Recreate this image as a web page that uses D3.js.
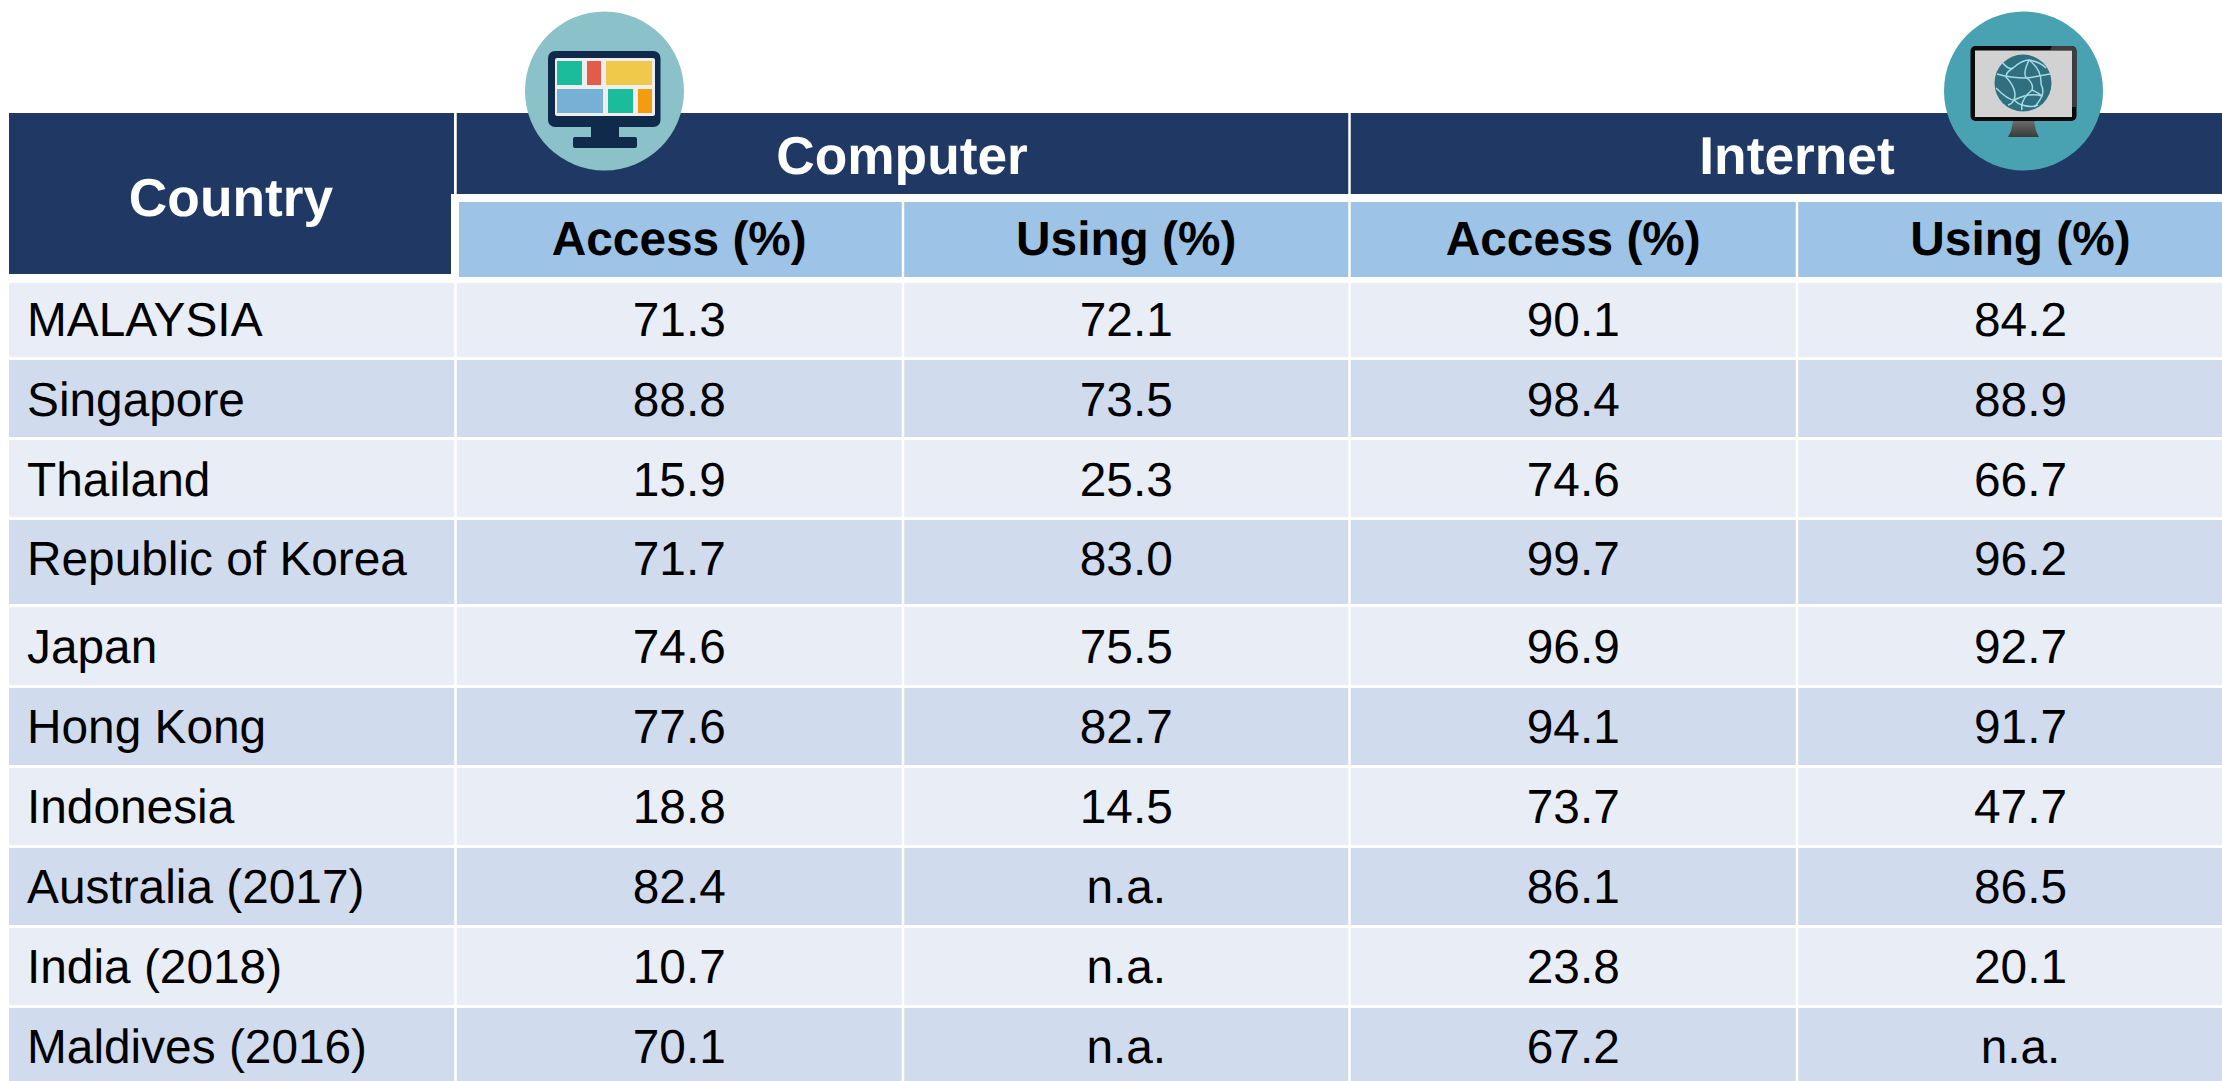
<!DOCTYPE html>
<html>
<head>
<meta charset="utf-8">
<script src="https://cdn.jsdelivr.net/npm/d3@7"></script>
<style>
  html, body { margin: 0; padding: 0; background: #fff; overflow: hidden; }
  svg { display: block; }
  text { font-family: "Liberation Sans", Arial, sans-serif; text-rendering: geometricPrecision; }
</style>
</head>
<body>
<svg id="chart" width="2222" height="1081"></svg>
<script>
const countries = ['MALAYSIA', 'Singapore', 'Thailand', 'Republic of Korea', 'Japan', 'Hong Kong', 'Indonesia', 'Australia (2017)', 'India (2018)', 'Maldives (2016)'];
const computerAccess = ['71.3', '88.8', '15.9', '71.7', '74.6', '77.6', '18.8', '82.4', '10.7', '70.1'];
const computerUsing = ['72.1', '73.5', '25.3', '83.0', '75.5', '82.7', '14.5', 'n.a.', 'n.a.', 'n.a.'];
const internetAccess = ['90.1', '98.4', '74.6', '99.7', '96.9', '94.1', '73.7', '86.1', '23.8', '67.2'];
const internetUsing = ['84.2', '88.9', '66.7', '96.2', '92.7', '91.7', '47.7', '86.5', '20.1', 'n.a.'];
const groups = ['Computer', 'Internet'];
const subHeaders = ['Access (%)', 'Using (%)', 'Access (%)', 'Using (%)'];

const colEdges = [9, 455.5, 903, 1349.5, 1797, 2244];
const rowTops = [283, 360, 440, 520, 607, 688, 768, 848, 928, 1008];
const rowBottoms = [357, 437, 517, 604, 685, 765, 845, 925, 1005, 1085];
const rowBaselines = [336, 416, 496, 575, 663, 743, 823, 903, 983, 1063];
const gap = 2.5;

const svg = d3.select('#chart');
const columns = [countries, computerAccess, computerUsing, internetAccess, internetUsing];
const x = d3.scaleOrdinal().domain(d3.range(6)).range(colEdges);
const colMid = i => (x(i) + x(i + 1)) / 2;
const rowColor = i => (i % 2 ? '#d0dbee' : '#e9edf6');

// body
const rows = svg.append('g').selectAll('g').data(countries).enter().append('g');
rows.selectAll('rect').data((d, r) => d3.range(5).map(c => ({ r, c }))).enter().append('rect')
  .attr('x', d => x(d.c) + (d.c ? gap / 2 : 0))
  .attr('y', d => rowTops[d.r])
  .attr('width', d => x(d.c + 1) - x(d.c) - (d.c ? gap : gap / 2))
  .attr('height', d => rowBottoms[d.r] - rowTops[d.r])
  .attr('fill', d => rowColor(d.r));

rows.append('text')
  .attr('x', 27)
  .attr('y', (d, r) => rowBaselines[r])
  .attr('font-size', 47.8)
  .text(d => d);

columns.slice(1).forEach((vals, k) => {
  svg.append('g').selectAll('text').data(vals).enter().append('text')
    .attr('x', colMid(k + 1))
    .attr('y', (d, r) => rowBaselines[r])
    .attr('text-anchor', 'middle')
    .attr('font-size', 47.8)
    .text(d => d);
});

// header
const head = svg.append('g');
head.append('rect').attr('x', 9).attr('y', 113).attr('width', 442).attr('height', 161).attr('fill', '#1f3864');
head.append('rect').attr('x', 451).attr('y', 113).attr('width', 3).attr('height', 81).attr('fill', '#1f3864');
head.selectAll('rect.group').data(groups).enter().append('rect')
  .attr('class', 'group')
  .attr('x', (d, i) => x(1 + i * 2) + gap / 2)
  .attr('y', 113)
  .attr('width', (d, i) => x(3 + i * 2) - x(1 + i * 2) - gap)
  .attr('height', 81)
  .attr('fill', '#1f3864');
head.selectAll('rect.sub').data(subHeaders).enter().append('rect')
  .attr('class', 'sub')
  .attr('x', (d, i) => (i ? x(i + 1) + gap / 2 : 459))
  .attr('y', 202)
  .attr('width', (d, i) => (i ? x(i + 2) - x(i + 1) - gap : x(2) - gap / 2 - 459))
  .attr('height', 75)
  .attr('fill', '#9dc3e6');

head.append('text')
  .attr('x', 231).attr('y', 216)
  .attr('text-anchor', 'middle').attr('font-size', 53.3).attr('font-weight', 'bold').attr('fill', '#fff')
  .text('Country');
head.selectAll('text.group').data(groups).enter().append('text')
  .attr('class', 'group')
  .attr('x', (d, i) => (i ? 1797 : 902))
  .attr('y', 174)
  .attr('text-anchor', 'middle').attr('font-size', 53.3).attr('font-weight', 'bold').attr('fill', '#fff')
  .text(d => d);
head.selectAll('text.sub').data(subHeaders).enter().append('text')
  .attr('class', 'sub')
  .attr('x', (d, i) => colMid(i + 1))
  .attr('y', 255)
  .attr('text-anchor', 'middle').attr('font-size', 47.8).attr('font-weight', 'bold')
  .text(d => d);

// computer icon
const icon1 = svg.append('g');
icon1.append('circle').attr('cx', 604.5).attr('cy', 91).attr('r', 79.5).attr('fill', '#8bc1c9');
icon1.append('rect').attr('x', 548).attr('y', 51).attr('width', 112.5).attr('height', 76).attr('rx', 7).attr('fill', '#0f2a4a');
icon1.append('rect').attr('x', 591).attr('y', 125).attr('width', 28).attr('height', 14).attr('fill', '#0f2a4a');
icon1.append('rect').attr('x', 573).attr('y', 137).attr('width', 64).attr('height', 11).attr('rx', 2).attr('fill', '#0f2a4a');
icon1.append('rect').attr('x', 555).attr('y', 58).attr('width', 100).attr('height', 58).attr('rx', 2).attr('fill', '#eeeeee');
const tiles = [
  { x: 557, y: 61, w: 25, h: 24, c: '#1abc9c' },
  { x: 587, y: 61, w: 14, h: 24, c: '#e35b4b' },
  { x: 606, y: 61, w: 46, h: 24, c: '#f0c84a' },
  { x: 557, y: 89, w: 46, h: 24, c: '#76b0d4' },
  { x: 608, y: 89, w: 25, h: 24, c: '#1abc9c' },
  { x: 638, y: 89, w: 14, h: 24, c: '#f39c12' }
];
icon1.selectAll('rect.tile').data(tiles).enter().append('rect')
  .attr('class', 'tile')
  .attr('x', d => d.x).attr('y', d => d.y).attr('width', d => d.w).attr('height', d => d.h).attr('fill', d => d.c);

// internet icon
const icon2 = svg.append('g');
icon2.append('circle').attr('cx', 2023.5).attr('cy', 91).attr('r', 79.5).attr('fill', '#48a2b2');
const standFill = svg.append('defs').append('linearGradient').attr('id', 'stand').attr('x1', 0).attr('x2', 0).attr('y1', 0).attr('y2', 1);
standFill.append('stop').attr('offset', 0).attr('stop-color', '#6a6a6a');
standFill.append('stop').attr('offset', 1).attr('stop-color', '#3a3a3a');
icon2.append('path').attr('d', 'M2013,121L2034,121L2036,131L2039,137L2008,137L2011,131Z').attr('fill', 'url(#stand)');
icon2.append('rect').attr('x', 1970.5).attr('y', 46).attr('width', 106).attr('height', 75).attr('rx', 5).attr('fill', '#0a0a0a');
icon2.append('path').attr('d', 'M2052,46L2071,46Q2076.5,46 2076.5,51L2076.5,107L2072,107L2072,50L2050,50Z').attr('fill', '#3d3d40');
icon2.append('rect').attr('x', 1975).attr('y', 50.5).attr('width', 97).attr('height', 66.5).attr('fill', '#d2d2d2');
icon2.append('circle').attr('cx', 2023).attr('cy', 83).attr('r', 28.5).attr('fill', '#2f6f7f');
const globeLines = [
  'M1997,74Q2010,78 2027,78Q2040,76 2050,74',
  'M1996,88Q2008,100 2014,100Q2030,92 2042,96',
  'M2002,62Q2008,70 2013,68Q2022,60 2029,60Q2040,62 2046,68',
  'M2029,60Q2022,75 2027,78Q2034,84 2032,90Q2020,100 2022,110',
  'M2013,68Q2006,72 2006,77Q2018,90 2014,100Q2012,104 2008,105',
  'M2032,90Q2040,94 2042,96Q2038,104 2034,107',
  'M2029,60Q2042,70 2041,84Q2044,90 2042,96',
  'M2014,100Q2018,104 2022,105Q2032,108 2038,105'
];
icon2.selectAll('path.globe').data(globeLines).enter().append('path')
  .attr('class', 'globe')
  .attr('d', d => d).attr('fill', 'none').attr('stroke', '#a5dbe6').attr('stroke-width', 1.5);
</script>
</body>
</html>
